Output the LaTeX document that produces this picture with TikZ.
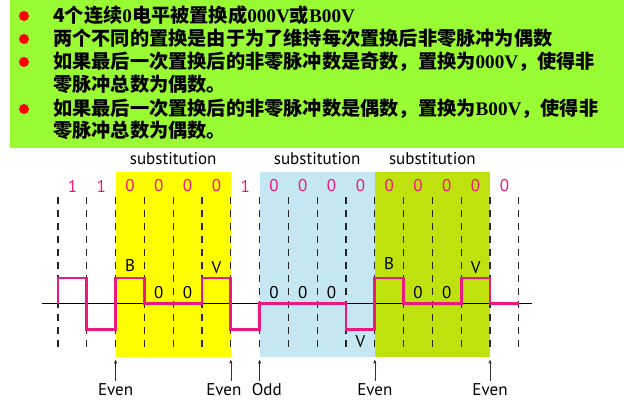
\documentclass[tikz,border=0pt]{standalone}
\usepackage{fontspec}
\setsansfont{PT Sans}
\newfontfamily\cjk{Noto Sans CJK SC}
\newfontfamily\lat{Liberation Serif}
\usetikzlibrary{arrows}

\definecolor{limebg}{HTML}{99FB33}
\definecolor{subyellow}{HTML}{FFFF00}
\definecolor{subblue}{HTML}{C4E7F1}
\definecolor{subgreen}{HTML}{BFE20E}
\definecolor{pulse}{HTML}{EB1880}

\newcommand{\asc}[1]{{\lat\bfseries #1}}

\begin{document}
\begin{tikzpicture} [x=1pt, y=-1pt, >=stealth', font=\sffamily\fontsize{17}{20}\selectfont,
	item/.style={anchor=base west, inner sep=0pt, font=\cjk\bfseries\fontsize{19.2}{23}\selectfont},
	dot/.style={circle, fill=red, inner sep=0pt, minimum size=10pt},
	bit/.style={text=pulse, inner sep=0pt},
	lbl/.style={inner sep=0pt},
	parity/.style={inner sep=3pt},
	tick/.style={dash pattern=on 6.5pt off 6.5pt, line width=1.2pt, black!85},
	level/.style={pulse, line width=2.8pt}]

\useasboundingbox (0,0) rectangle (624,401);

% text box
\fill[limebg] (10,0) rectangle (624,148);
\node[dot]	(d1)	at (24,16)	{};
\node[dot]	(d2)	at (24,39)	{};
\node[dot]	(d3)	at (24,62)	{};
\node[dot]	(d4)	at (24,109)	{};
\node[item]	(t1)	at (53,23)	{4个连续\asc{0}电平被置换成\asc{000V}或\asc{B00V}};
\node[item]	(t2)	at (53,46)	{两个不同的置换是由于为了维持每次置换后非零脉冲为偶数};
\node[item]	(t3)	at (53,69)	{如果最后一次置换后的非零脉冲数是奇数，置换为\asc{000V}，使得非};
\node[item]	(t3b)	at (53,92)	{零脉冲总数为偶数。};
\node[item]	(t4)	at (53,115.5)	{如果最后一次置换后的非零脉冲数是偶数，置换为\asc{B00V}，使得非};
\node[item]	(t4b)	at (53,138)	{零脉冲总数为偶数。};

\begin{scope}[xshift=58pt, x=28.8pt]
% substituted blocks
\fill[subyellow]	(2,172) rectangle (6,357);
\fill[subblue]	(7,172) rectangle (11,357);
\fill[subgreen]	(11,172) rectangle (15,357);
\node	(s1)	at (4,159)	{substitution};
\node	(s2)	at (9,159)	{substitution};
\node	(s3)	at (13,159)	{substitution};

% bit cells
\foreach \k in {0,...,16}
	\draw[tick] (\k,197) -- (\k,350);
\foreach \b [count=\i from 0] in {1,1,0,0,0,0,1,0,0,0,0,0,0,0,0,0}
	\node[bit] (b\i) at (\i+0.5,186) {\b};

% signal
\draw[thin] (-0.57,303.5) -- (16.47,303.5);
\draw[level] (0,303.5) -- (0,278) -- (1,278) -- (1,329.5) -- (2,329.5) -- (2,278) -- (3,278)
	-- (3,303.5) -- (5,303.5) -- (5,278) -- (6,278) -- (6,329.5) -- (7,329.5) -- (7,303.5)
	-- (10,303.5) -- (10,329.5) -- (11,329.5) -- (11,278) -- (12,278) -- (12,303.5)
	-- (14,303.5) -- (14,278) -- (15,278) -- (15,303.5) -- (16,303.5);

\node[lbl]	(B1)	at (2.5,266)	{B};
\node[lbl]	(z3)	at (3.5,293)	{0};
\node[lbl]	(z4)	at (4.5,293)	{0};
\node[lbl]	(V1)	at (5.5,268)	{V};
\node[lbl]	(z7)	at (7.5,293)	{0};
\node[lbl]	(z8)	at (8.5,293)	{0};
\node[lbl]	(z9)	at (9.5,293)	{0};
\node[lbl]	(V2)	at (10.5,342)	{V};
\node[lbl]	(B2)	at (11.5,264)	{B};
\node[lbl]	(z12)	at (12.5,293)	{0};
\node[lbl]	(z13)	at (13.5,293)	{0};
\node[lbl]	(V3)	at (14.5,268)	{V};

% parity marks
\coordinate	(a1)	at (2,360);
\coordinate	(a2)	at (6,360);
\coordinate	(a3)	at (7,360);
\coordinate	(a4)	at (11,360);
\coordinate	(a5)	at (15,360);
\node[parity]	(p1)	at (2,390)	{Even};
\node[parity]	(p2)	at (5.76,390)	{Even};
\node[parity]	(p3)	at (7.25,390)	{Odd};
\node[parity]	(p4)	at (11,390)	{Even};
\node[parity]	(p5)	at (15,390)	{Even};
\foreach \n in {1,...,5}
	\draw[->, black!80] (p\n.north -| a\n) -- (a\n);
\end{scope}

\end{tikzpicture}
\end{document}
